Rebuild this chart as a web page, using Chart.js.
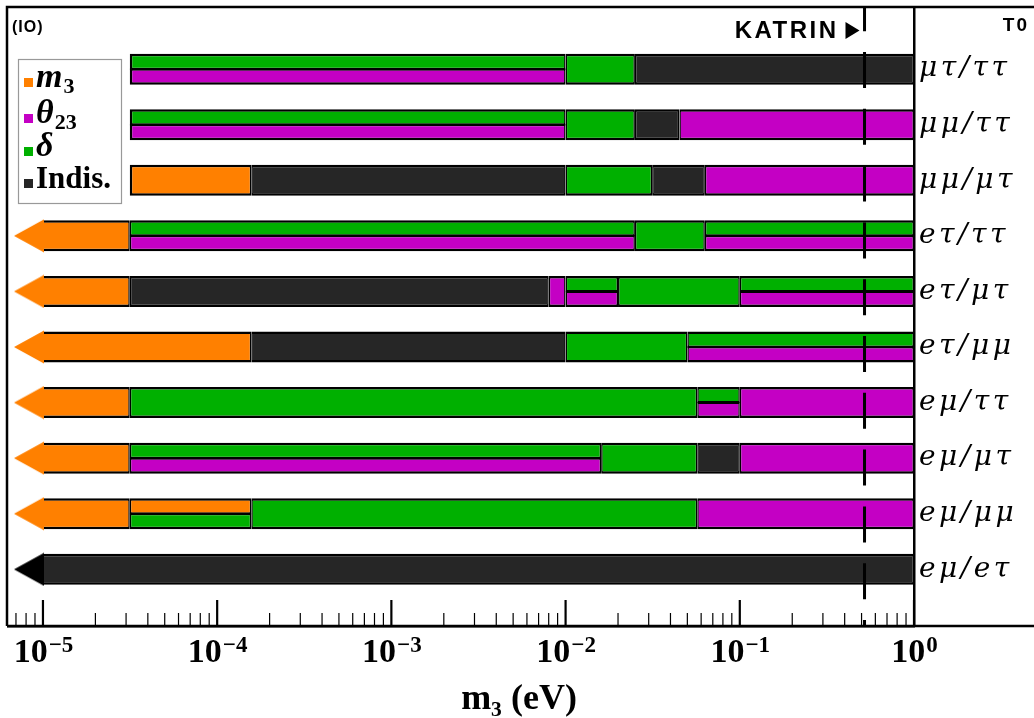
<!DOCTYPE html>
<html><head><meta charset="utf-8">
<script src="https://cdn.jsdelivr.net/npm/chart.js@4.4.1/dist/chart.umd.min.js"></script>
<style>html,body{margin:0;padding:0;background:#fff;}#wrap{width:1034px;height:718px;}</style>
</head><body><div id="wrap"><canvas id="c" width="1034" height="718"></canvas></div>
<script>
// ---------- data ----------
const rowLabels = ['μτ/ττ','μμ/ττ','μμ/μτ','eτ/ττ','eτ/μτ','eτ/μμ','eμ/ττ','eμ/μτ','eμ/μμ','eμ/eτ'];
const tickValues = [1e-5, 1e-4, 1e-3, 1e-2, 1e-1, 1];
const tickLabels = ['10⁻⁵','10⁻⁴','10⁻³','10⁻²','10⁻¹','10⁰'];
const xMin = 6.3e-6, xMax = 1;
const katrinLimit = 0.52;
const arrowStart = 1e-5;
const legendNames = ['m','θ','δ','Indis.'];
const legendSubs = ['3','23','',''];
// segments: [row, from (eV), to (eV)]
const m3Full = [[2,3.15e-5,1.57e-4],[3,1e-5,3.15e-5],[4,1e-5,3.15e-5],[5,1e-5,1.57e-4],[6,1e-5,3.15e-5],[7,1e-5,3.15e-5],[8,1e-5,3.15e-5]];
const m3Top = [[8,3.15e-5,1.57e-4]];
const theta23Full = [[1,0.045,1],[2,0.063,1],[4,0.008,0.01],[6,0.1,1],[7,0.1,1],[8,0.057,1]];
const theta23Bottom = [[0,3.15e-5,0.01],[1,3.15e-5,0.01],[3,3.15e-5,0.025],[3,0.063,1],[4,0.01,0.02],[4,0.1,1],[5,0.05,1],[6,0.057,0.1],[7,3.15e-5,0.016]];
const deltaFull = [[0,0.01,0.025],[1,0.01,0.025],[2,0.01,0.0314],[3,0.025,0.063],[4,0.02,0.1],[5,0.01,0.05],[6,3.15e-5,0.057],[7,0.016,0.057],[8,1.57e-4,0.057]];
const deltaTop = [[0,3.15e-5,0.01],[1,3.15e-5,0.01],[3,3.15e-5,0.025],[3,0.063,1],[4,0.01,0.02],[4,0.1,1],[5,0.05,1],[6,0.057,0.1],[7,3.15e-5,0.016]];
const deltaBottom = [[8,3.15e-5,1.57e-4]];
const indisFull = [[0,0.025,1],[1,0.025,0.045],[2,1.57e-4,0.01],[2,0.0314,0.063],[4,3.15e-5,0.008],[5,1.57e-4,0.01],[7,0.057,0.1],[9,1e-5,1]];
const m3ArrowRows = [3,4,5,6,7,8];
const indisArrowRows = [9];

// ---------- styles ----------
const ORANGE='#ff8000', MAGENTA='#c400c4', GREEN='#00b000', DARK='#262626';
const yMin = -1.1, yMax = 10.02;
const FULL = 31, HALF = 16.5, HALF_OFF = 0.1304;
const SERIF = '"Liberation Serif", "Times New Roman", serif';
const SANS = '"Liberation Sans", Arial, sans-serif';

const allSegs = [m3Full,m3Top,theta23Full,theta23Bottom,deltaFull,deltaTop,deltaBottom,indisFull].flat();
const rowStart = {};
allSegs.forEach(([r,s]) => { rowStart[r] = Math.min(rowStart[r] ?? Infinity, s); });

function seg(list, dy) { return list.map(([r,s,e]) => ({x:[s,e], y:r+dy, row:r})); }
function segBorder(ctx) {
  let left = 1.5;
  const r = ctx.raw;
  if (r && r.x) {
    if (r.x[0] <= arrowStart * 1.0001) left = 0;
    else if (r.x[0] <= rowStart[r.row] * 1.0001) left = 2.5;
  }
  return {top:2.5, bottom:2.5, left:left, right:1.5};
}
function barDs(label, list, dy, color, thick) {
  return {type:'bar', label, data:seg(list, dy), backgroundColor:color, borderColor:'#000',
    borderWidth:segBorder, borderSkipped:false, grouped:false, barPercentage:30, categoryPercentage:1,
    maxBarThickness:thick, order:10};
}
function arrowImg(color) {
  const c = document.createElement('canvas'); c.width = 60; c.height = 34;
  const g = c.getContext('2d'); g.fillStyle = color;
  g.beginPath(); g.moveTo(1,17); g.lineTo(31,0.5); g.lineTo(31,33.5); g.closePath(); g.fill();
  return c;
}

const datasets = [
  barDs('m3', m3Full, 0, ORANGE, FULL),
  barDs('m3 (upper half)', m3Top, -HALF_OFF, ORANGE, HALF),
  barDs('θ23', theta23Full, 0, MAGENTA, FULL),
  barDs('θ23 (lower half)', theta23Bottom, HALF_OFF, MAGENTA, HALF),
  barDs('δ', deltaFull, 0, GREEN, FULL),
  barDs('δ (upper half)', deltaTop, -HALF_OFF, GREEN, HALF),
  barDs('δ (lower half)', deltaBottom, HALF_OFF, GREEN, HALF),
  barDs('Indis.', indisFull, 0, DARK, FULL),
  {type:'scatter', label:'m3 arrows', data:m3ArrowRows.map(r => ({x:arrowStart, y:r})),
   pointStyle:arrowImg(ORANGE), pointRadius:10, order:5},
  {type:'scatter', label:'Indis. arrow', data:indisArrowRows.map(r => ({x:arrowStart, y:r})),
   pointStyle:arrowImg('#000'), pointRadius:10, order:5},
  {type:'line', label:'KATRIN', data:[{x:katrinLimit, y:yMin},{x:katrinLimit, y:yMax}],
   borderColor:'#000', borderWidth:3, borderDash:[36,20.8], borderDashOffset:12.8,
   pointRadius:0, fill:false, order:0}
];

const supMap = {'⁻':'−','⁰':'0','¹':'1','²':'2','³':'3','⁴':'4','⁵':'5','⁶':'6','⁷':'7','⁸':'8','⁹':'9'};

const decorPlugin = {
  id:'decor',
  afterDatasetsDraw(chart) {
    const ctx = chart.ctx, xs = chart.scales.x;
    ctx.save();
    // KATRIN label
    const kx = xs.getPixelForValue(katrinLimit);
    ctx.fillStyle = '#000';
    ctx.font = 'bold 24px ' + SANS;
    ctx.letterSpacing = '2.5px';
    ctx.textAlign = 'right'; ctx.textBaseline = 'alphabetic';
    ctx.fillText('KATRIN', kx - 26, 38);
    ctx.letterSpacing = '0px';
    ctx.beginPath(); ctx.moveTo(kx-19, 22); ctx.lineTo(kx-19, 39); ctx.lineTo(kx-5, 30.5); ctx.closePath(); ctx.fill();
    // corner tags
    ctx.textAlign = 'left';
    ctx.font = 'bold 16px ' + SANS;
    ctx.letterSpacing = '1px';
    ctx.fillText('(IO)', 12, 32);
    ctx.textAlign = 'right';
    ctx.font = 'bold 19px ' + SANS;
    ctx.letterSpacing = '2px';
    ctx.fillText('T0', 1029, 31);
    ctx.letterSpacing = '0px';
    // legend
    ctx.fillStyle = '#fff'; ctx.fillRect(18, 59, 103, 144);
    ctx.strokeStyle = '#999'; ctx.lineWidth = 1.2; ctx.strokeRect(18.5, 59.5, 103, 144);
    const colors = [ORANGE, MAGENTA, GREEN, DARK];
    const baselines = [87, 123, 156, 188];
    ctx.textAlign = 'left';
    legendNames.forEach((name, i) => {
      const b = baselines[i];
      ctx.fillStyle = colors[i]; ctx.fillRect(24, b - 9, 9, 9);
      ctx.fillStyle = '#000';
      const italic = i < 3;
      ctx.font = (italic ? 'italic ' : '') + 'bold ' + (italic ? 34 : 31) + 'px ' + SERIF;
      ctx.fillText(name, 36, b);
      const w = ctx.measureText(name).width;
      if (legendSubs[i]) {
        ctx.font = 'bold 22px ' + SERIF;
        ctx.fillText(legendSubs[i], 36 + w + 1, b + 6);
      }
    });
    ctx.restore();
  },
  afterDraw(chart) {
    const ctx = chart.ctx, xs = chart.scales.x, a = chart.chartArea;
    ctx.save();
    ctx.strokeStyle = '#000';
    // inward ticks
    xs.ticks.forEach(t => {
      const px = xs.getPixelForValue(t.value);
      const major = tickValues.some(v => Math.abs(Math.log10(v) - Math.log10(t.value)) < 1e-6);
      ctx.lineWidth = major ? 2.2 : 1.2;
      ctx.beginPath(); ctx.moveTo(px, a.bottom); ctx.lineTo(px, a.bottom - (major ? 26 : 13)); ctx.stroke();
    });
    // frame
    ctx.lineWidth = 2.5;
    ctx.beginPath();
    ctx.moveTo(7, a.bottom); ctx.lineTo(7, 7); ctx.lineTo(chart.width, 7);
    ctx.moveTo(7, a.bottom); ctx.lineTo(chart.width, a.bottom);
    ctx.stroke();
    ctx.restore();
  }
};

new Chart(document.getElementById('c'), {
  type:'bar',
  data:{datasets},
  options:{
    indexAxis:'y', responsive:false, animation:false, devicePixelRatio:1,
    layout:{autoPadding:false, padding:{left:8, top:8, right:4, bottom:0}},
    plugins:{
      legend:{display:false}, tooltip:{enabled:false},
      title:{display:true, position:'bottom', text:'m₃ (eV)', color:'#000', padding:0,
        font:{family:SERIF, size:36, weight:'bold', lineHeight:1}}
    },
    scales:{
      x:{type:'logarithmic', min:xMin, max:xMax, bounds:'data', position:'bottom', offset:false,
        grid:{display:false, drawTicks:false},
        border:{display:true, color:'#000', width:2.5},
        afterBuildTicks(s){
          const t = [];
          for (let e = -6; e <= 0; e++) for (let m = 1; m <= 9; m++) {
            const v = m * Math.pow(10, e);
            if (v >= xMin && v <= xMax * 1.0001) t.push({value: v});
          }
          s.ticks = t;
        },
        afterFit(s){
          s.height = 56;
          s.paddingLeft = 0; s.paddingRight = 0;
          if (!s.__sup) {
            // render "10⁻ⁿ" labels with a real raised exponent
            s.drawLabels = function(area){
              const c = this.ctx, items = this.getLabelItems(area);
              c.save(); c.fillStyle = '#000'; c.textBaseline = 'alphabetic'; c.textAlign = 'left';
              const base = this.top + 36;
              items.forEach(it => {
                const lbl = String(it.label || ''); if (!lbl) return;
                let main = '', sup = '';
                for (const ch of lbl) { if (supMap[ch] !== undefined) sup += supMap[ch]; else main += ch; }
                c.font = 'bold 34px ' + SERIF; const wm = c.measureText(main).width;
                c.font = 'bold 23px ' + SERIF; const ws = c.measureText(sup).width;
                const x0 = it.options.translation[0] - (wm + ws) / 2;
                c.font = 'bold 34px ' + SERIF; c.fillText(main, x0, base);
                c.font = 'bold 23px ' + SERIF; c.fillText(sup, x0 + wm + 1, base - 10);
              });
              c.restore();
            };
            s.__sup = true;
          }
        },
        ticks:{autoSkip:false, maxRotation:0, minRotation:0, padding:0, color:'#000',
          font:{family:SERIF, size:34, weight:'bold'},
          callback(v){
            const i = tickValues.findIndex(t => Math.abs(Math.log10(t) - Math.log10(v)) < 1e-6);
            return i >= 0 ? tickLabels[i] : '';
          }}
      },
      y:{type:'linear', position:'right', reverse:true, min:yMin, max:yMax, bounds:'data', offset:false,
        grid:{display:false, drawTicks:false, offset:false},
        border:{display:true, color:'#000', width:2.5},
        afterBuildTicks(s){ s.ticks = rowLabels.map((_, i) => ({value:i})); },
        afterFit(s){
          s.width = 116;
          s.paddingTop = 0; s.paddingBottom = 0;
          if (!s.__spaced) {
            const orig = s.drawLabels;
            s.drawLabels = function(area){
              const c = this.ctx, prev = c.letterSpacing;
              c.letterSpacing = '3.5px'; orig.call(this, area); c.letterSpacing = prev;
            };
            s.__spaced = true;
          }
        },
        ticks:{autoSkip:false, padding:5, color:'#000',
          font:{family:'"DejaVu Serif", serif', size:28, style:'italic'},
          callback(v){ return rowLabels[v] ?? ''; }}
      }
    }
  },
  plugins:[decorPlugin]
});
</script></body></html>
